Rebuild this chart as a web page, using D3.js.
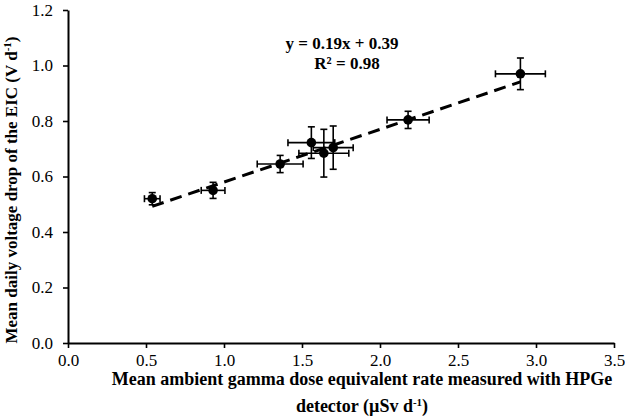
<!DOCTYPE html>
<html>
<head>
<meta charset="utf-8">
<script src="https://cdn.jsdelivr.net/npm/d3@7"></script>
<style>
  html, body { margin: 0; padding: 0; background: #fff; }
  svg { display: block; }
  text { font-family: "Liberation Serif", "Times New Roman", serif; fill: #000; }
</style>
</head>
<body>
<svg id="chart" width="625" height="420"></svg>
<script>
// Data
const doseRate   = [0.54, 0.93, 1.36, 1.56, 1.64, 1.70, 2.18, 2.90];   // µSv d-1
const doseErr    = [0.05, 0.076, 0.147, 0.15, 0.16, 0.128, 0.135, 0.16];
const voltDrop   = [0.52, 0.55, 0.645, 0.722, 0.684, 0.704, 0.804, 0.97]; // V d-1
const voltErr    = [0.022, 0.029, 0.031, 0.057, 0.086, 0.078, 0.031, 0.057];
const xTicks     = [0, 0.5, 1.0, 1.5, 2.0, 2.5, 3.0, 3.5];
const yTicks     = [0, 0.2, 0.4, 0.6, 0.8, 1.0, 1.2];
const fitSlope   = 0.19;
const fitInter   = 0.39;
const eqLines    = ["y = 0.19x + 0.39", "R² = 0.98"];

const svg = d3.select("#chart");
const x = d3.scaleLinear().domain([0, 3.5]).range([68, 614]);
const y = d3.scaleLinear().domain([0, 1.2]).range([343, 10]);

// axes
const xAxis = svg.append("g").attr("transform", `translate(0,${y(0)})`)
  .call(d3.axisBottom(x).tickValues(xTicks).tickFormat(d3.format(".1f")).tickSize(5).tickSizeOuter(0).tickPadding(6));
const yAxis = svg.append("g").attr("transform", `translate(${x(0)},0)`)
  .call(d3.axisLeft(y).tickValues(yTicks).tickFormat(d3.format(".1f")).tickSize(5).tickSizeOuter(0).tickPadding(10));
[xAxis, yAxis].forEach(g => {
  g.selectAll("path.domain").attr("stroke", "#000").attr("stroke-width", 2);
  g.selectAll(".tick line").attr("stroke", "#000").attr("stroke-width", 1.6);
  g.selectAll(".tick text").style("font-family", '"Liberation Serif", serif').style("font-size", "17px").attr("fill", "#000");
});

// data objects
const pts = doseRate.map((d, i) => ({ x: d, xe: doseErr[i], y: voltDrop[i], ye: voltErr[i] }));

// trend line
const xMin = d3.min(doseRate), xMax = d3.max(doseRate);
svg.append("line")
  .attr("x1", x(xMin)).attr("y1", y(fitSlope * xMin + fitInter))
  .attr("x2", x(xMax)).attr("y2", y(fitSlope * xMax + fitInter))
  .attr("stroke", "#000").attr("stroke-width", 3)
  .attr("stroke-dasharray", "12,7");

// error bars
const cap = 3.5;
const eb = svg.append("g").attr("stroke", "#000").attr("stroke-width", 1.6);
pts.forEach(p => {
  eb.append("line").attr("x1", x(p.x - p.xe)).attr("x2", x(p.x + p.xe)).attr("y1", y(p.y)).attr("y2", y(p.y));
  eb.append("line").attr("x1", x(p.x - p.xe)).attr("x2", x(p.x - p.xe)).attr("y1", y(p.y) - cap).attr("y2", y(p.y) + cap);
  eb.append("line").attr("x1", x(p.x + p.xe)).attr("x2", x(p.x + p.xe)).attr("y1", y(p.y) - cap).attr("y2", y(p.y) + cap);
  eb.append("line").attr("x1", x(p.x)).attr("x2", x(p.x)).attr("y1", y(p.y - p.ye)).attr("y2", y(p.y + p.ye));
  eb.append("line").attr("x1", x(p.x) - cap).attr("x2", x(p.x) + cap).attr("y1", y(p.y - p.ye)).attr("y2", y(p.y - p.ye));
  eb.append("line").attr("x1", x(p.x) - cap).attr("x2", x(p.x) + cap).attr("y1", y(p.y + p.ye)).attr("y2", y(p.y + p.ye));
});

// markers
svg.append("g").selectAll("circle").data(pts).join("circle")
  .attr("cx", d => x(d.x)).attr("cy", d => y(d.y)).attr("r", 4.8).attr("fill", "#000");

// equation
svg.append("text").attr("x", 342).attr("y", 49).attr("text-anchor", "middle")
  .style("font-size", "17px").style("font-weight", "bold").text(eqLines[0]);
svg.append("text").attr("x", 347).attr("y", 68.5).attr("text-anchor", "middle")
  .style("font-size", "17px").style("font-weight", "bold").text(eqLines[1]);

// axis titles
const xt = svg.append("text").attr("text-anchor", "middle").style("font-size", "18px").style("font-weight", "bold");
xt.append("tspan").attr("x", 362).attr("y", 385).text("Mean ambient gamma dose equivalent rate measured with HPGe");
const l2 = xt.append("tspan").attr("x", 362).attr("y", 412);
l2.append("tspan").text("detector (µSv d");
l2.append("tspan").attr("dy", -6).style("font-size", "11px").text("-1");
l2.append("tspan").attr("dy", 6).text(")");

const yt = svg.append("text").attr("text-anchor", "middle").style("font-size", "17px").style("font-weight", "bold")
  .attr("transform", "translate(17,190) rotate(-90)");
yt.append("tspan").text("Mean daily voltage drop of the EIC (V d");
yt.append("tspan").attr("dy", -6).style("font-size", "11px").text("-1");
yt.append("tspan").attr("dy", 6).text(")");
</script>
</body>
</html>
